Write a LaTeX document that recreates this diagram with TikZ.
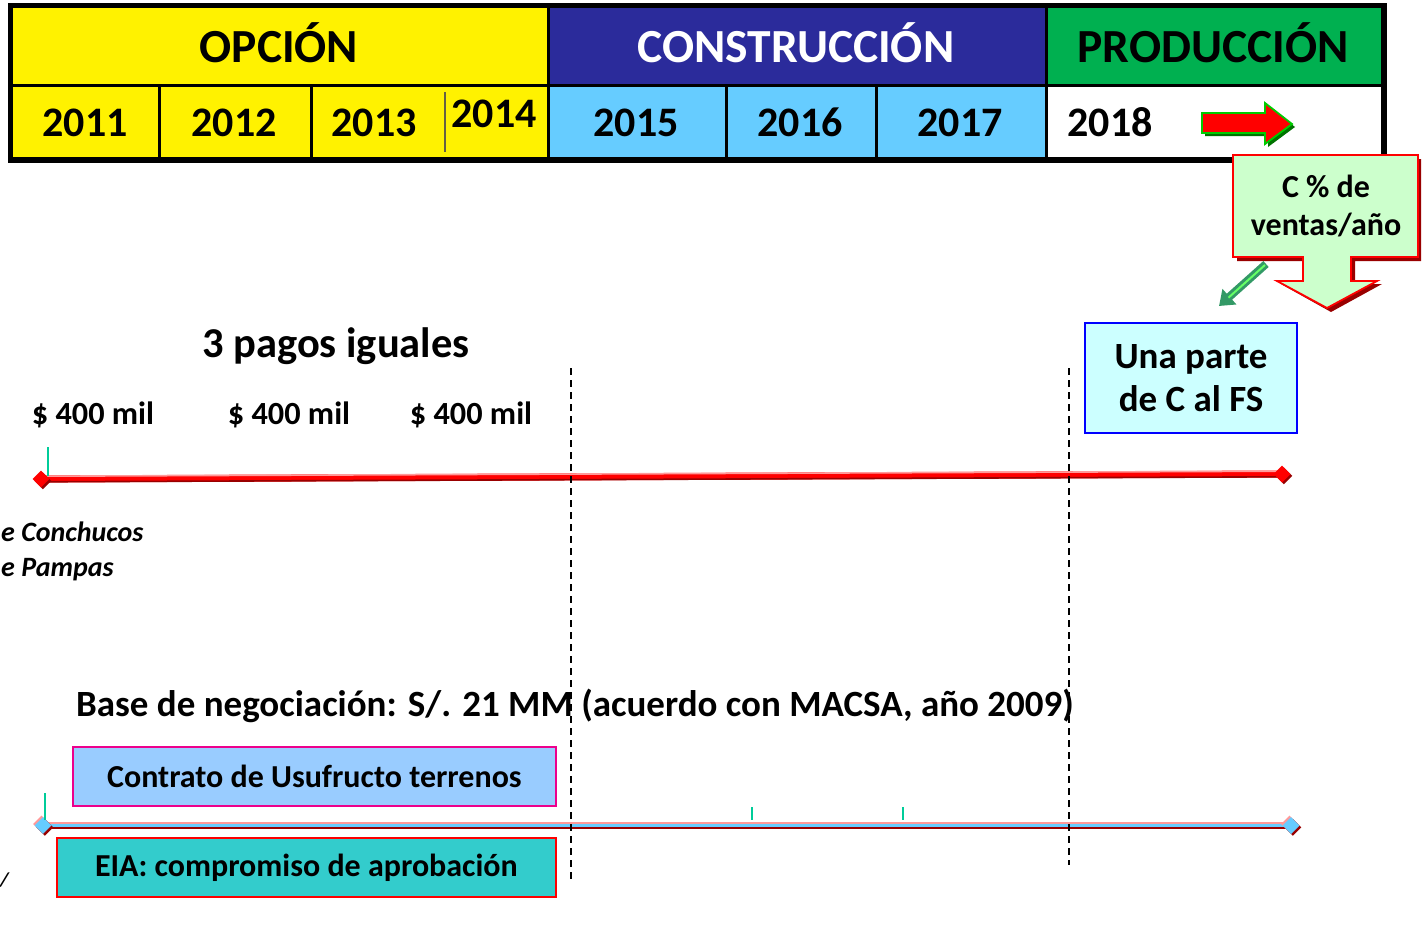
\documentclass[tikz,border=0pt]{standalone}
\usepackage{fontspec}
\setmainfont{Carlito}
\usetikzlibrary{arrows.meta,shadows}
\definecolor{hdrblue}{HTML}{2B2B9B}
\definecolor{yrblue}{HTML}{66CCFF}
\definecolor{prodgreen}{HTML}{00B050}
\definecolor{callfill}{HTML}{CCFFCC}
\definecolor{unafill}{HTML}{CCFFFF}
\definecolor{contfill}{HTML}{99CCFF}
\definecolor{eiafill}{HTML}{33CCCC}
\definecolor{tick}{HTML}{00CC99}
\definecolor{darkred}{HTML}{990000}
\definecolor{pinkedge}{HTML}{FF9999}
\definecolor{arrgreen}{HTML}{339966}
\begin{document}
\begin{tikzpicture}[x=1pt,y=-1pt]
\useasboundingbox (0,0) rectangle (1422,927);
\tikzset{
  cellbox/.style={draw=black, line width=3pt, anchor=north west, inner sep=0pt},
  hdr/.style={font=\bfseries\fontsize{47.5}{52}\selectfont, anchor=base, inner sep=0pt},
  yr/.style={font=\bfseries\fontsize{42}{46}\selectfont, anchor=base, inner sep=0pt},
  money/.style={font=\bfseries\fontsize{32.3}{37}\selectfont, anchor=base, inner sep=0pt},
  labbox/.style={line width=1.8pt, inner sep=0pt, font=\bfseries\fontsize{32}{37}\selectfont},
  tl/.style={line width=1.5pt, dash pattern=on 7pt off 5pt},
  tickmark/.style={tick, line width=1.6pt},
  dmd/.style={rectangle, rotate=45, minimum size=12pt, inner sep=0pt},
}
% ---------- table ----------
\node[cellbox, fill=yellow, minimum width=537, minimum height=79] (copc) at (10,5) {};
\node[cellbox, fill=hdrblue, minimum width=498, minimum height=79] (ccon) at (547,5) {};
\node[cellbox, fill=prodgreen, minimum width=336, minimum height=79] (cprod) at (1045,5) {};
\node[cellbox, fill=yellow, minimum width=148, minimum height=73] (c11) at (10,84) {};
\node[cellbox, fill=yellow, minimum width=152, minimum height=73] (c12) at (158,84) {};
\node[cellbox, fill=yellow, minimum width=237, minimum height=73] (c13) at (310,84) {};
\node[cellbox, fill=yrblue, minimum width=178, minimum height=73] (c15) at (547,84) {};
\node[cellbox, fill=yrblue, minimum width=150, minimum height=73] (c16) at (725,84) {};
\node[cellbox, fill=yrblue, minimum width=170, minimum height=73] (c17) at (875,84) {};
\node[cellbox, fill=white, minimum width=336, minimum height=73] (c18) at (1045,84) {};
\draw[line width=5pt] (copc.north west) rectangle (c18.south east);
\draw[line width=1.5pt, black!70!yellow] (445,92) -- (445,152);
\node[hdr] (topc) at (279,62) {OPCIÓN};
\node[hdr, text=white] (tcon) at (796,62) {CONSTRUCCIÓN};
\node[hdr] (tprod) at (1213,62) {PRODUCCIÓN};
\node[yr] (t11) at (85,136) {2011};
\node[yr] (t12) at (234,136) {2012};
\node[yr] (t13) at (374,136) {2013};
\node[yr] (t14) at (494,127) {2014};
\node[yr] (t15) at (636,136) {2015};
\node[yr] (t16) at (800,136) {2016};
\node[yr] (t17) at (960,136) {2017};
\node[yr] (t18) at (1110,136) {2018};
% red arrow in 2018 cell
\fill[green!45!black] (1205,116)--(1268,116)--(1268,106)--(1295,127)--(1268,147)--(1268,136)--(1205,136)--cycle;
\filldraw[fill=red, draw=green!80!black, line width=1.8pt] (1202,113)--(1265,113)--(1265,103)--(1292,124)--(1265,144)--(1265,133)--(1202,133)--cycle;
% ---------- callout ----------
\fill[darkred] (1237,159)--(1421,159)--(1421,261)--(1355,261)--(1355,284)--(1382,284)--(1331,312)--(1281,284)--(1307,284)--(1307,261)--(1237,261)--cycle;
\filldraw[fill=callfill, draw=red, line width=1.8pt] (1233,155)--(1418,155)--(1418,257)--(1351,257)--(1351,281)--(1377,281)--(1327,308)--(1277,281)--(1303,281)--(1303,257)--(1233,257)--cycle;
\node[font=\bfseries\fontsize{32}{38}\selectfont, align=center, inner sep=0pt] (call) at (1326,206) {C \% de\\ventas/año};
\coordinate (g1) at (1266,264);
\coordinate (g2) at (1219,306);
\draw[-{Triangle[width=20pt,length=14pt]}, line width=8pt, arrgreen] (g1) -- (g2);
\draw[line width=2pt, green!60!white, shorten >=14pt] ([xshift=-1pt,yshift=-1pt]g1) -- ([xshift=-1pt,yshift=-1pt]g2);
% ---------- upper timeline ----------
\node[font=\bfseries\fontsize{42.5}{48}\selectfont, anchor=base, inner sep=0pt] (pagos) at (336,357) {3 pagos iguales};
\node[money] (m1) at (93,424) {\$ 400 mil};
\node[money] (m2) at (289,424) {\$ 400 mil};
\node[money] (m3) at (471,424) {\$ 400 mil};
\node[labbox, draw=blue, fill=unafill, minimum width=212, minimum height=110, align=center, font=\bfseries\fontsize{37}{43}\selectfont] (una) at (1191,378) {Una parte\\de C al FS};
\coordinate (a1) at (41,479);
\coordinate (b1) at (1282,474);
\draw[line width=7pt, red] (a1) -- (b1);
\draw[line width=1.6pt, pinkedge] ([yshift=2.8pt]a1) -- ([yshift=2.8pt]b1);
\draw[line width=1.6pt, darkred] ([yshift=-2.8pt]a1) -- ([yshift=-2.8pt]b1);
\node[dmd, fill=darkred] (d1s) at ([xshift=1.8pt,yshift=-1.8pt]a1) {};
\node[dmd, fill=red] (d1) at (a1) {};
\node[dmd, fill=darkred] (e1s) at ([xshift=1.8pt,yshift=-1.8pt]b1) {};
\node[dmd, fill=red] (e1) at (b1) {};
\coordinate (k0) at (48,447);
\draw[tickmark] (k0) -- (48,476);
\node[font=\bfseries\itshape\fontsize{28}{33}\selectfont, anchor=base west, inner sep=0pt] (conch) at (1,541) {e Conchucos};
\node[font=\bfseries\itshape\fontsize{28}{33}\selectfont, anchor=base west, inner sep=0pt] (pamp) at (1,576) {e Pampas};
% ---------- lower timeline ----------
\node[font=\bfseries\fontsize{37}{42}\selectfont, anchor=base west, inner sep=0pt] (base) at (76,716) {Base de negociación: S/. 21 MM (acuerdo con MACSA, año 2009)};
\node[labbox, draw=magenta, fill=contfill, minimum width=483, minimum height=59, anchor=north west] (cont) at (72,746) {Contrato de Usufructo terrenos};
\node[labbox, draw=red, fill=eiafill, minimum width=499, minimum height=59, anchor=north west] (eia) at (56,837) {EIA: compromiso de aprobación};
\coordinate (a2) at (43,825.5);
\coordinate (b2) at (1291,825.5);
\draw[line width=6pt, yrblue] (a2) -- (b2);
\draw[line width=1.8pt, pinkedge] ([yshift=2.6pt]a2) -- ([yshift=2.6pt]b2);
\draw[line width=1.8pt, darkred] ([yshift=-2.6pt]a2) -- ([yshift=-2.6pt]b2);
\node[dmd, fill=pinkedge] (d2h) at ([xshift=-1.5pt,yshift=1.5pt]a2) {};
\node[dmd, fill=darkred] (d2s) at ([xshift=1.8pt,yshift=-1.8pt]a2) {};
\node[dmd, fill=yrblue] (d2) at (a2) {};
\node[dmd, fill=pinkedge] (e2h) at ([xshift=-1.5pt,yshift=1.5pt]b2) {};
\node[dmd, fill=darkred] (e2s) at ([xshift=1.8pt,yshift=-1.8pt]b2) {};
\node[dmd, fill=yrblue] (e2) at (b2) {};
\draw[tickmark] (45,793) -- (45,820);
\draw[tickmark] (752,807) -- (752,820);
\draw[tickmark] (903,807) -- (903,820);
\node[font=\bfseries\itshape\fontsize{20}{24}\selectfont, anchor=base west, inner sep=0pt] (frag) at (0,886) {/};
% ---------- dashed separators ----------
\coordinate (v1t) at (571,368);
\coordinate (v1b) at (571,880);
\coordinate (v2t) at (1069,368);
\coordinate (v2b) at (1069,865);
\draw[tl] (v1t) -- (v1b);
\draw[tl] (v2t) -- (v2b);
\end{tikzpicture}
\end{document}
